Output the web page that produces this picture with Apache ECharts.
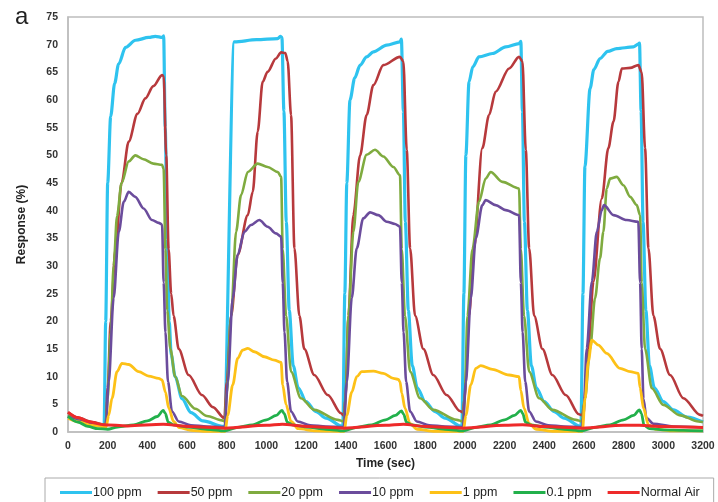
<!DOCTYPE html>
<html>
<head>
<meta charset="utf-8">
<script src="https://cdn.jsdelivr.net/npm/echarts@6/dist/echarts.min.js"></script>
<style>
html,body{margin:0;padding:0;background:#fff;}
#c{width:718px;height:502px;}
</style>
</head>
<body>
<div id="c"></div>
<script>
const seriesNames = ['100 ppm','50 ppm','20 ppm','10 ppm','1 ppm','0.1 ppm','Normal Air'];
const xTicks = [0,200,400,600,800,1000,1200,1400,1600,1800,2000,2200,2400,2600,2800,3000,3200];

const ppm100 = [[0,2.8],[60,2.0],[120,1.5],[182,1.2],
[190,20],[200,45],[215,57],[235,63],[255,66.5],[290,69.5],[340,70.8],[407,71.3],[440,71.5],[476,71.3],[482,71.6],
[490,55],[500,35],[510,20],[520,14],[540,10],[575,6],[620,3.5],[680,2],[785,1],
[838,70.5],[950,70.9],[1057,71.1],[1070,71.5],[1078,71.3],[1088,58],
[1100,38],[1115,22],[1135,12],[1160,8],[1200,5.5],[1250,3.7],[1300,2.5],[1385,1],
[1395,25],[1405,45],[1421,60],[1445,64],[1472,66.3],[1505,67.8],[1539,68.7],[1606,69.9],[1673,70.5],[1680,71],
[1690,58],[1700,38],[1715,22],[1735,12],[1760,8],[1800,5.5],[1850,3.7],[1900,2.5],[1985,1],
[1995,25],[2005,50],[2021,63.3],[2040,66],[2071,67.8],[2139,68.4],[2206,69.6],[2273,70.2],[2282,70.6],
[2290,58],[2300,38],[2315,22],[2335,12],[2360,8],[2400,5.5],[2450,3.7],[2500,2.5],[2585,1],
[2595,25],[2605,48],[2631,62.1],[2650,65.5],[2681,67.5],[2720,68.8],[2765,69.3],[2849,69.6],[2874,70.1],[2880,70.3],
[2888,58],[2898,38],[2912,22],[2930,12],[2955,8],[3000,5.5],[3051,4],[3120,2.7],[3200,1.8]];

const ppm50 = [[0,3.5],[60,2.5],[120,1.8],[190,1.3],[200,8],[215,20],[239,33],[270,45],[306,52.5],[350,57.5],[390,60.3],[430,62.5],[474,64.5],[482,64.3],
[495,50],[507,33],[520,25],[532,21],[558,15],[608,10.3],[675,6.7],[730,4.5],[788,2.5],
[800,9],[822,21],[855,32],[906,39.2],[931,43.4],[956,54.3],[981,63.3],[1006,65.1],[1048,67.5],[1074,68.6],[1095,68.5],[1107,67],
[1124,57.3],[1141,33.2],[1166,21],[1191,15],[1241,10.3],[1309,6.7],[1376,3.4],[1390,3],
[1398,6],[1413,21],[1438,39.2],[1472,50],[1505,57.3],[1539,62.7],[1589,66.3],[1673,67.8],[1690,67],
[1707,51],[1724,33.2],[1749,21],[1791,15],[1841,10.3],[1908,6.7],[1975,3.8],[1990,3.5],
[1998,6],[2021,21],[2046,33.2],[2088,51.3],[2122,57.3],[2155,61.5],[2223,65.7],[2273,67.8],[2290,67],
[2307,51],[2324,33.2],[2349,21],[2391,15],[2441,10.3],[2508,6.7],[2575,3.2],[2592,3],
[2600,5],[2622,15.1],[2648,27.2],[2690,42.2],[2723,51.3],[2749,56.1],[2774,63.3],[2791,65.7],[2833,65.8],[2874,66.3],[2891,65],
[2908,51.3],[2925,33.2],[2950,21],[2984,15],[3034,10.3],[3101,6.1],[3185,3.1],[3200,2.9]];

const ppm20 = [[0,3],[60,2.2],[120,1.6],[190,1.3],[200,6],[215,18],[230,30],[247,39],[270,45],[306,48.9],[339,50],[380,49.3],[430,48.5],[474,48.3],[482,47.5],
[491,33],[500,22],[516,15],[540,10],[575,6.5],[642,4.2],[700,2.9],[776,2.1],[790,1.9],
[800,7],[822,21],[847,36.2],[872,42.8],[906,47],[956,48.5],[1006,47.9],[1057,47],[1074,46.1],
[1082,33],[1099,21],[1124,10.9],[1174,6.1],[1241,4],[1359,2.2],[1390,1.9],
[1400,7],[1413,21],[1438,36.2],[1463,45.2],[1505,50.1],[1547,51],[1589,49.8],[1640,47.9],[1673,46.4],
[1682,33],[1698,21],[1724,10.9],[1774,6.1],[1841,4],[1959,2.2],[1990,1.9],
[2000,7],[2013,21],[2038,33],[2071,41.6],[2105,45.8],[2130,47],[2189,45.2],[2273,44],
[2282,33],[2298,21],[2324,10.9],[2374,6.1],[2441,4],[2559,2.2],[2590,1.9],
[2605,6],[2631,15],[2656,24.2],[2681,31.4],[2698,36.2],[2715,44],[2732,45.8],[2765,46.1],[2799,44.6],[2833,42.5],[2866,41],[2883,39.2],
[2891,27],[2908,15],[2942,7.9],[3000,4.9],[3085,3],[3177,1.9],[3200,1.8]];

const ppm10 = [[0,2.8],[60,2],[120,1.4],[190,1.1],[205,9],[230,24.2],[256,36.2],[281,41.6],[306,43.4],[339,42.5],[381,40.4],[423,38.3],[457,37.8],[474,37.5],
[482,27],[491,18],[504,9.1],[524,3.7],[558,1.9],[620,1.2],[700,1],[790,0.9],
[805,9],[830,24.2],[855,32],[889,36.2],[922,37.4],[964,38.3],[1006,37.1],[1048,35.9],[1074,35.3],
[1082,27],[1091,18],[1104,9.1],[1124,3.7],[1158,1.9],[1220,1.2],[1300,1],[1390,0.9],
[1405,9],[1430,24.2],[1455,33.2],[1488,38.6],[1522,39.7],[1564,39.2],[1606,38],[1648,37.6],[1673,37.1],
[1682,27],[1691,18],[1704,9.1],[1724,3.7],[1758,1.9],[1820,1.2],[1900,1],[1990,0.9],
[2005,9],[2030,24.2],[2055,35],[2088,41],[2105,41.9],[2155,41],[2206,40.1],[2273,39.2],
[2282,27],[2291,18],[2304,9.1],[2324,3.7],[2358,1.9],[2420,1.2],[2500,1],[2590,0.9],
[2598,3],[2614,15.1],[2640,27.2],[2665,36.2],[2690,40.1],[2701,41],[2749,39.2],[2816,38.3],[2874,38],
[2883,27],[2891,15],[2900,6],[2915,2.5],[2950,1.5],[3050,1],[3200,0.8]];

const ppm1 = [[0,2.5],[60,1.8],[120,1.2],[192,0.9],[205,3],[222,6.1],[247,10.9],[272,12.4],[306,12.2],[356,10.9],[407,10.1],[457,9.7],[474,9.4],
[491,7.2],[508,4.3],[532,1.9],[560,0.8],[620,0.3],[700,0.1],[792,0.1],
[805,3],[830,8.5],[855,13.3],[880,14.8],[906,15.1],[939,14.5],[990,13.6],[1040,13],[1074,12.6],
[1082,8.5],[1099,4.9],[1124,1.9],[1160,0.6],[1250,0.2],[1392,0.1],
[1405,3],[1430,7.2],[1455,10],[1480,10.9],[1539,11],[1589,10.6],[1640,9.7],[1665,9.5],[1673,9.1],
[1682,7],[1698,4.3],[1724,1.5],[1760,0.5],[1850,0.1],[1992,0.1],
[2005,3],[2030,8.5],[2055,11.5],[2080,12],[2139,11.3],[2223,10.3],[2273,10],
[2282,7.5],[2298,4.3],[2324,1.5],[2360,0.5],[2450,0.1],[2592,0.1],
[2606,6.1],[2622,12.7],[2640,16.6],[2673,15.7],[2715,14.2],[2782,11.5],[2833,10.9],[2874,10.6],
[2883,8],[2900,4.3],[2925,1.3],[2960,0.5],[3050,0.2],[3200,0.2]];

const ppm01 = [[0,2.8],[50,1.8],[100,1.0],[150,0.6],[200,0.5],[250,0.9],[330,1.3],[400,2],[450,2.8],[480,3.9],[490,3.4],[505,1.8],[530,1.3],[600,0.9],[700,0.5],[790,0.2],
[850,0.8],[930,1.3],[1000,2.2],[1050,3],[1078,3.9],[1090,3.3],[1105,1.8],[1130,1.3],[1200,0.9],[1300,0.5],[1390,0.2],
[1450,0.8],[1530,1.3],[1600,2.2],[1650,3],[1680,3.8],[1692,3.2],[1705,1.8],[1730,1.3],[1800,0.9],[1900,0.5],[1990,0.2],
[2050,0.8],[2130,1.3],[2200,2.2],[2250,3],[2282,3.9],[2292,3.3],[2305,1.8],[2330,1.3],[2400,0.9],[2500,0.5],[2590,0.2],
[2650,0.8],[2730,1.3],[2800,2.2],[2850,3],[2880,4],[2890,3.3],[2903,1.2],[2930,0.6],[3000,0.4],[3100,0.3],[3200,0.2]];

const normalAir = [[0,3.6],[50,2.6],[100,1.9],[180,1.3],[300,1.1],[480,1.4],[600,1.0],[790,0.7],[1000,1.2],[1080,1.4],[1200,1.0],[1390,0.7],[1600,1.2],[1690,1.4],[1800,1.0],[1990,0.7],[2200,1.2],[2290,1.3],[2400,1.0],[2590,0.7],[2800,1.2],[2880,1.2],[3000,1.0],[3200,0.8]];

const seriesData = [ppm100, ppm50, ppm20, ppm10, ppm1, ppm01, normalAir];
const colors = ['#2EC3EF','#B7393C','#7FAB3F','#6B4C9C','#FDC117','#22B04B','#EE2A2A'];
const widths = [3.2, 2.6, 2.6, 2.6, 2.8, 2.8, 3];

const chart = echarts.init(document.getElementById('c'), null, {renderer: 'canvas'});
const tickFont = {fontFamily: 'Liberation Sans', fontWeight: 'bold', fontSize: 10.5, color: '#333'};
chart.setOption({
  animation: false,
  backgroundColor: '#fff',
  color: colors,
  grid: {left: 68, right: 15, top: 17, bottom: 70, show: true, borderColor: '#bdbdbd', borderWidth: 1.5},
  graphic: [{type: 'text', left: 15, top: 5, style: {text: 'a', font: '24px "Liberation Sans"', fill: '#222'}}],
  legend: {
    data: seriesNames, left: 45, top: 478, width: 658,
    padding: [8, 14, 8, 15], itemGap: 16, itemWidth: 32, itemHeight: 3, icon: 'rect',
    borderColor: '#aaaaaa', borderWidth: 1,
    textStyle: {fontFamily: 'Liberation Sans', fontSize: 12.5, color: '#222', padding: [0,0,0,-4]}
  },
  xAxis: {
    type: 'value', min: 0, max: 3200, interval: 200,
    name: 'Time (sec)', nameLocation: 'middle', nameGap: 26,
    nameTextStyle: {fontFamily: 'Liberation Sans', fontWeight: 'bold', fontSize: 12, color: '#222'},
    axisLine: {show: true, lineStyle: {color: '#bdbdbd', width: 1.5}},
    axisTick: {show: false}, splitLine: {show: false},
    axisLabel: Object.assign({margin: 9, formatter: v => String(v)}, tickFont)
  },
  yAxis: {
    type: 'value', min: 0, max: 75, interval: 5,
    name: 'Response (%)', nameLocation: 'middle', nameGap: 40, nameRotate: 90,
    nameTextStyle: {fontFamily: 'Liberation Sans', fontWeight: 'bold', fontSize: 12, color: '#222'},
    axisLine: {show: true, lineStyle: {color: '#bdbdbd', width: 1.5}},
    axisTick: {show: false}, splitLine: {show: false},
    axisLabel: Object.assign({margin: 10}, tickFont)
  },
  series: seriesNames.map((n, i) => ({
    name: n, type: 'line', data: seriesData[i], showSymbol: false, symbol: 'none',
    smooth: 0.3, smoothMonotone: 'x', z: 2 + i,
    lineStyle: {color: colors[i], width: widths[i]}, itemStyle: {color: colors[i]}
  }))
});
</script>
</body>
</html>
